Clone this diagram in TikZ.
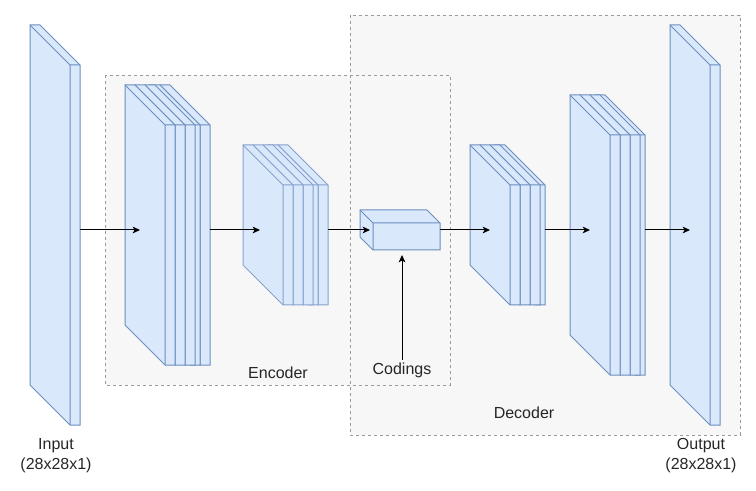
\documentclass[tikz,border=0pt]{standalone}
\usepackage{fontspec}
\setmainfont{Liberation Sans}
\usetikzlibrary{arrows.meta}
\definecolor{slabfill}{HTML}{DAE8FC}
\definecolor{slabline}{HTML}{6C8EBF}
\definecolor{grpfill}{HTML}{F7F7F7}
\definecolor{grpline}{HTML}{9A9A9A}

% cuboid layer: [style] x y width height depth (back top-left corner)
\newcommand{\layerslab}[6][]{%
  \filldraw[slab,#1] (#2,#3) -- ++(#4-#6,0) -- ++(#6,#6) -- ++(0,#5-#6)
    -- ++(#6-#4,0) -- ++(-#6,-#6) -- cycle;
  \draw[slab,fill=none,#1] (#2,#3) -- ++(#6,#6) -- ++(#4-#6,0)
    ++(#6-#4,0) -- ++(0,#5-#6);}

\begin{document}
\begin{tikzpicture}[x=0.75pt,y=-0.75pt,font=\fontsize{12}{15}\selectfont,>=latex]
    \tikzset{
      slab/.style={draw=slabline,fill=slabfill,line width=0.75pt,line join=miter},
      grp/.style={fill=grpfill},
      grpb/.style={draw=grpline,line width=0.6pt,dash pattern=on 2.25pt off 2.25pt},
      lbl/.style={text=black!85,align=center,inner sep=2pt},
      ar/.style={-{Stealth[length=5.5pt,width=5pt,inset=1.4pt]},line width=0.75pt}}
    \useasboundingbox (0,0) rectangle (756,491);
    % encoder / decoder groups
    \fill[grp] (105,75) rectangle (450,385);
    \fill[grp] (350,15) rectangle (740,435);
    \draw[grpb] (105,75) rectangle (450,385);
    \draw[grpb] (350,15) rectangle (740,435);
    % layers
    \layerslab{30}{25}{50}{400}{40}
    \foreach \dx in {35,25,20,10,0} {\layerslab{125+\dx}{85}{50}{280}{40}}
    \foreach \dx in {35,25,20,10,0} {\layerslab[draw=slabline!82]{243+\dx}{145}{50}{160}{40}}
    \layerslab{360}{210}{80}{40}{13}
    \foreach \dx in {25,20,10,0} {\layerslab{470+\dx}{145}{50}{160}{40}}
    \foreach \dx in {25,20,10,0} {\layerslab{570+\dx}{95}{50}{280}{40}}
    \layerslab{670}{25}{50}{400}{40}
    % connector ends
    \coordinate (inp-out) at (80,230);
    \coordinate (enc1-in) at (140,230);
    \coordinate (enc1-out) at (210,230);
    \coordinate (enc2-in) at (260,230);
    \coordinate (enc2-out) at (328,230);
    \coordinate (cod-in) at (370,230);
    \coordinate (cod-out) at (440,230);
    \coordinate (dec1-in) at (490,230);
    \coordinate (dec1-out) at (545,230);
    \coordinate (dec2-in) at (590,230);
    \coordinate (dec2-out) at (645,230);
    \coordinate (outp-in) at (690,230);
    \coordinate (cod-bot) at (402,255);
    % labels
    \node[lbl] (inplbl) at (56,456) {Input\\(28x28x1)};
    \node[lbl] (outplbl) at (701,456) {Output\\(28x28x1)};
    \node[lbl] (codlbl) at (402,370) {Codings};
    \node[lbl] (enclbl) at (278,373) {Encoder};
    \node[lbl] (declbl) at (524,413) {Decoder};
    \foreach \a/\b in {inp-out/enc1-in,enc1-out/enc2-in,enc2-out/cod-in,cod-out/dec1-in,dec1-out/dec2-in,dec2-out/outp-in}
      \draw[ar] (\a) -- (\b);
    \draw[ar] (codlbl) -- (cod-bot);
  \end{tikzpicture}
\end{document}
